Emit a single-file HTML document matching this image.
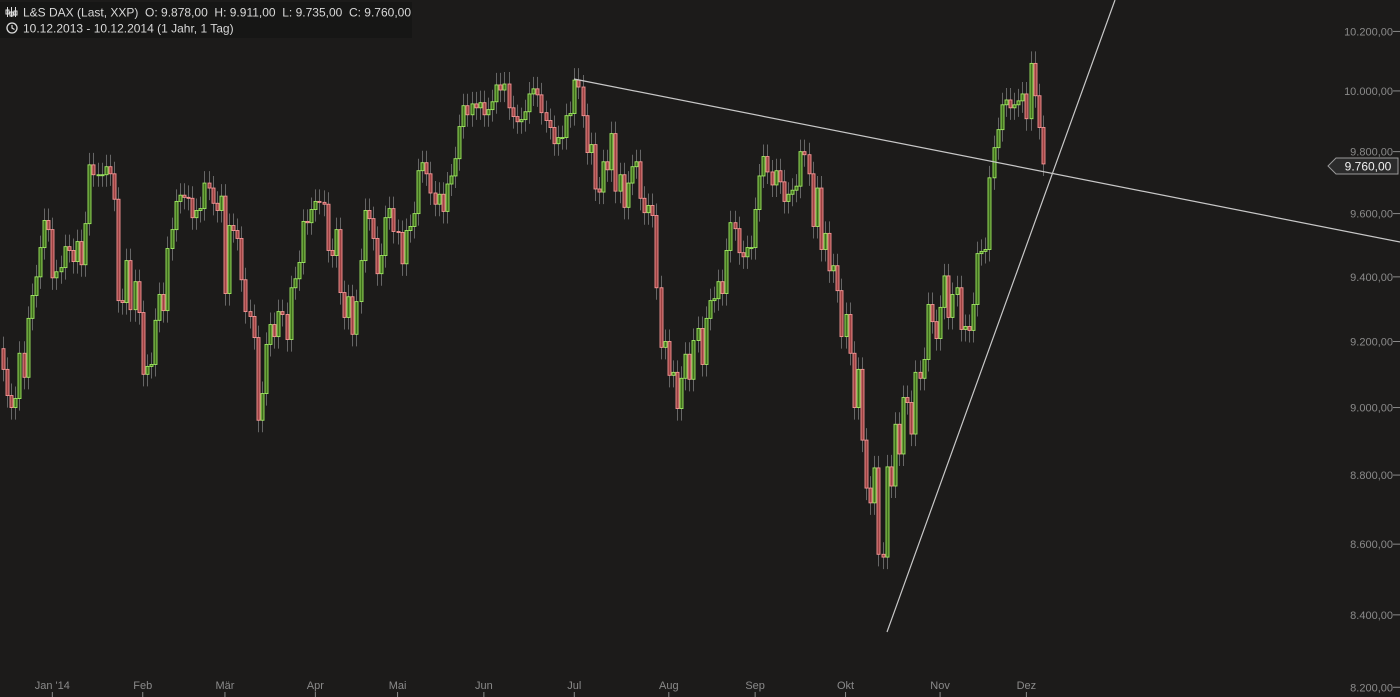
<!DOCTYPE html>
<html><head><meta charset="utf-8"><style>
html,body{margin:0;padding:0;background:#1c1b1a;}
svg{display:block;font-family:"Liberation Sans",sans-serif;}
</style></head><body>
<svg id="chart" width="1400" height="697" viewBox="0 0 1400 697" xmlns="http://www.w3.org/2000/svg">
<rect x="0" y="0" width="1400" height="697" fill="#1c1b1a"/>
<g id="candles"></g>
<g id="yaxis"></g>
<g id="xaxis"></g>
<line x1="574" y1="79" x2="1400" y2="242" stroke="#c8c8c8" stroke-width="1.2"/>
<line x1="887" y1="632" x2="1115" y2="0" stroke="#c8c8c8" stroke-width="1.2"/>
<g>
<polygon points="1328,166 1336,158 1398,158 1398,174 1336,174" fill="#2b2b2b" stroke="#9a9a9a" stroke-width="1"/>
<text x="1368" y="170.5" fill="#f0f0f0" font-size="12" text-anchor="middle">9.760,00</text>
</g>
<g>
<rect x="0" y="2" width="412" height="36" fill="#161615"/>
<g stroke="#ddd" stroke-width="1" fill="none">
<line x1="7.5" y1="7" x2="7.5" y2="17"/><rect x="6" y="10" width="3" height="4"/>
<line x1="11.5" y1="7" x2="11.5" y2="17"/><rect x="10" y="12" width="3" height="4"/>
<line x1="15.5" y1="7" x2="15.5" y2="17"/><rect x="14" y="11" width="3" height="4"/>
</g>
<text x="23" y="16.5" fill="#d8d8d8" font-size="12" style="white-space:pre" xml:space="preserve">L&amp;S DAX (Last, XXP)  O: 9.878,00  H: 9.911,00  L: 9.735,00  C: 9.760,00</text>
<circle cx="12" cy="28" r="5" fill="none" stroke="#ddd" stroke-width="1.3"/>
<polyline points="12,25 12,28 14.5,29.5" fill="none" stroke="#ddd" stroke-width="1.2"/>
<text x="23" y="32.5" fill="#d8d8d8" font-size="12">10.12.2013 - 10.12.2014 (1 Jahr, 1 Tag)</text>
</g>
</svg>
<script>
const closes = [9115,9036,9000,9027,9164,9091,9271,9342,9400,9492,9578,9549,9397,9416,9429,9495,9483,9448,9511,9438,9568,9757,9725,9725,9725,9751,9728,9646,9326,9320,9451,9298,9385,9289,9100,9124,9130,9265,9345,9295,9489,9549,9639,9659,9652,9649,9587,9610,9616,9698,9682,9633,9610,9656,9348,9562,9546,9521,9391,9292,9277,9212,8962,9042,9191,9252,9215,9292,9283,9206,9366,9394,9445,9575,9571,9613,9639,9636,9630,9483,9467,9549,9351,9274,9338,9222,9323,9451,9610,9584,9521,9410,9467,9587,9616,9543,9540,9441,9546,9559,9600,9738,9764,9728,9666,9630,9662,9607,9695,9721,9777,9882,9951,9921,9957,9944,9961,9921,9938,9964,10020,10003,10023,9944,9915,9898,9905,9931,9990,10007,9987,9928,9902,9879,9826,9846,9846,9918,9925,10036,10013,9918,9797,9823,9679,9669,9767,9741,9859,9672,9725,9620,9698,9751,9767,9649,9603,9626,9594,9366,9182,9200,9097,9106,8997,9088,9161,9085,9203,9240,9130,9271,9326,9332,9385,9348,9483,9571,9552,9476,9463,9492,9492,9613,9721,9784,9734,9692,9738,9702,9639,9662,9675,9688,9800,9790,9728,9559,9682,9486,9537,9419,9435,9357,9215,9283,9164,9000,9115,8903,8762,8719,8821,8571,8563,8824,8768,8950,8862,9030,9015,8921,9106,9088,9145,9314,9261,9209,9305,9403,9274,9345,9366,9237,9246,9234,9314,9473,9480,9486,9715,9813,9872,9954,9970,9944,9954,9967,9990,9908,10092,9984,9879,9760];
const firstOpen = 9178;
const priceTicks = [8200,8400,8600,8800,9000,9200,9400,9600,9800,10000,10200];
const tickLabels = ["8.200,00","8.400,00","8.600,00","8.800,00","9.000,00","9.200,00","9.400,00","9.600,00","9.800,00","10.000,00","10.200,00"];
const monthLabels = ["Jan '14","Feb","Mär","Apr","Mai","Jun","Jul","Aug","Sep","Okt","Nov","Dez"];
const monthIndex = [12,34,54,76,96,117,139,162,183,205,228,249];

const NS = "http://www.w3.org/2000/svg";
function yScale(p){ return 27768 - 3005*Math.log(p); }
function xScale(i){ return 3 + i*4.11; }
function mk(tag, attrs, parent){ const e=document.createElementNS(NS,tag); for(const k in attrs) e.setAttribute(k,attrs[k]); parent.appendChild(e); return e; }

const cg = document.getElementById('candles');
closes.forEach((c,i)=>{
  const o = i===0 ? firstOpen : closes[i-1];
  const up = c>=o;
  const hi = Math.max(o,c)*1.004, lo = Math.min(o,c)*0.996;
  const x = Math.round(xScale(i))+0.5;
  const g = mk('g',{},cg);
  
  
  mk('line',{x1:x,x2:x,y1:yScale(hi),y2:yScale(lo),stroke:'#666','stroke-width':1},g);
  const yt = yScale(Math.max(o,c)), yb = yScale(Math.min(o,c));
  mk('rect',{x:x-1.5,y:yt,width:3,height:Math.max(1,yb-yt),fill:up?'#3f6e1c':'#9c4242',stroke:up?'#9ee860':'#f59494','stroke-width':0.9},g);
});

const ya = document.getElementById('yaxis');
priceTicks.forEach((p,i)=>{
  const y = yScale(p);
  const t = mk('text',{x:1393,y:y+4,fill:'#8a8a8a','font-size':11,'text-anchor':'end'},ya);
  
  
  t.textContent = tickLabels[i];
  mk('line',{x1:1393,x2:1400,y1:y,y2:y,stroke:'#8a8a8a','stroke-width':1},ya);
});

const xa = document.getElementById('xaxis');
monthLabels.forEach((m,i)=>{
  const x = xScale(monthIndex[i]);
  const t = mk('text',{x:x,y:689,fill:'#8a8a8a','font-size':11,'text-anchor':'middle'},xa);
  
  
  t.textContent = m;
  mk('line',{x1:x,x2:x,y1:692,y2:697,stroke:'#8a8a8a','stroke-width':1},xa);
});
</script>
</body></html>
